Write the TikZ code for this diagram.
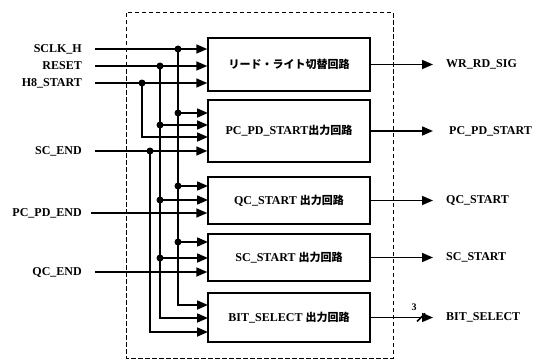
\documentclass[tikz,border=0pt]{standalone}
\usepackage{fontspec}
\setmainfont{Liberation Serif}
\newfontfamily\jp{Noto Sans CJK JP}
\newcommand{\jpt}[1]{{\jp\bfseries\fontsize{11}{13}\selectfont #1}}
\usetikzlibrary{arrows.meta}
\begin{document}
\begin{tikzpicture}[x=1pt,y=-1pt,
  sig/.style={line width=1.7pt},
  arr/.style={sig,-{Triangle[length=11pt,width=9pt]}},
  blk/.style={draw,line width=1.4pt,minimum width=162pt,inner sep=0pt,font=\bfseries\fontsize{12}{14}\selectfont},
  lbl/.style={font=\bfseries\fontsize{12}{14}\selectfont,inner sep=0pt},
  dotn/.style={circle,fill,inner sep=0pt,minimum size=7pt},
  frame/.style={line width=1pt,dash pattern=on 4.5pt off 2.5pt}]
\useasboundingbox (0,0) rectangle (535,361);
% frame
\draw[frame] (126,13) rectangle (393,358);
% blocks
\node[blk,minimum height=53pt] (box1) at (289,64.5) {\jpt{リード・ライト切替回路}};
\node[blk,minimum height=62pt] (box2) at (289,131) {PC\_PD\_START\jpt{出力回路}};
\node[blk,minimum height=47pt] (box3) at (289,200.5) {QC\_START \jpt{出力回路}};
\node[blk,minimum height=47pt] (box4) at (289,257.5) {SC\_START \jpt{出力回路}};
\node[blk,minimum height=49pt] (box5) at (289,317.5) {BIT\_SELECT \jpt{出力回路}};
% input labels
\node[lbl,anchor=east] (tsclk) at (82,49) {SCLK\_H};
\node[lbl,anchor=east] (treset) at (82,66) {RESET};
\node[lbl,anchor=east] (th8) at (82,83) {H8\_START};
\node[lbl,anchor=east] (tscend) at (82,151) {SC\_END};
\node[lbl,anchor=east] (tpcpdend) at (82,213) {PC\_PD\_END};
\node[lbl,anchor=east] (tqcend) at (82,272) {QC\_END};
% input starts
\coordinate (isclk) at (95,49);
\coordinate (ireset) at (95,66);
\coordinate (ih8) at (95,83);
\coordinate (iscend) at (95,151);
\coordinate (ipcpdend) at (91,213);
\coordinate (iqcend) at (95,272);
% junctions
\node[dotn] (dsclk) at (178,49) {};
\node[dotn] (dreset) at (160,66) {};
\node[dotn] (dh8) at (142,83) {};
\node[dotn] (dscend) at (150,151) {};
% ports
\coordinate (b2a) at (208,113);
\coordinate (b2b) at (208,125);
\coordinate (b2c) at (208,137);
\coordinate (b3a) at (208,186);
\coordinate (b3b) at (208,200);
\coordinate (b4a) at (208,242);
\coordinate (b4b) at (208,258);
\coordinate (b5a) at (208,305);
\coordinate (b5b) at (208,318);
\coordinate (b5c) at (208,332);
% straight inputs
\draw[arr] (isclk) -- (box1.west |- isclk);
\draw[arr] (ireset) -- (box1.west |- ireset);
\draw[arr] (ih8) -- (box1.west |- ih8);
\draw[arr] (iscend) -- (box2.west |- iscend);
\draw[arr] (ipcpdend) -- (box3.west |- ipcpdend);
\draw[arr] (iqcend) -- (box4.west |- iqcend);
% buses
\draw[arr] (dsclk.center) |- (b2a);
\draw[arr] (dsclk.center) |- (b3a);
\draw[arr] (dsclk.center) |- (b4a);
\draw[arr] (dsclk.center) |- (b5a);
\draw[arr] (dreset.center) |- (b2b);
\draw[arr] (dreset.center) |- (b3b);
\draw[arr] (dreset.center) |- (b4b);
\draw[arr] (dreset.center) |- (b5b);
\draw[arr] (dh8.center) |- (b2c);
\draw[arr] (dscend.center) |- (b5c);
% branch dots
\node[dotn] (js2) at (dsclk |- b2a) {};
\node[dotn] (js3) at (dsclk |- b3a) {};
\node[dotn] (js4) at (dsclk |- b4a) {};
\node[dotn] (jr2) at (dreset |- b2b) {};
\node[dotn] (jr3) at (dreset |- b3b) {};
\node[dotn] (jr4) at (dreset |- b4b) {};
% outputs
\coordinate (o1) at (433,64.5);
\coordinate (o2) at (433,131);
\coordinate (o3) at (433,200.5);
\coordinate (o4) at (433,257.5);
\coordinate (o5) at (433,317.5);
\draw[arr] (box1.east) -- (o1);
\draw[arr] (box2.east) -- (o2);
\draw[arr] (box3.east) -- (o3);
\draw[arr] (box4.east) -- (o4);
\draw[arr] (box5.east) -- (o5);
\node[lbl,anchor=west] (t1) at (446,64.5) {WR\_RD\_SIG};
\node[lbl,anchor=west] (t2) at (449,131) {PC\_PD\_START};
\node[lbl,anchor=west] (t3) at (446,200.5) {QC\_START};
\node[lbl,anchor=west] (t4) at (446,257.5) {SC\_START};
\node[lbl,anchor=west] (t5) at (446,317.5) {BIT\_SELECT};
% bus width mark
\coordinate (sl) at (421,317.5);
\draw[sig] ([shift={(-4,4)}]sl) -- ([shift={(4,-4)}]sl);
\node[font=\bfseries\fontsize{10}{11}\selectfont,inner sep=0pt] (n3) at (414,307) {3};
\end{tikzpicture}
\end{document}
